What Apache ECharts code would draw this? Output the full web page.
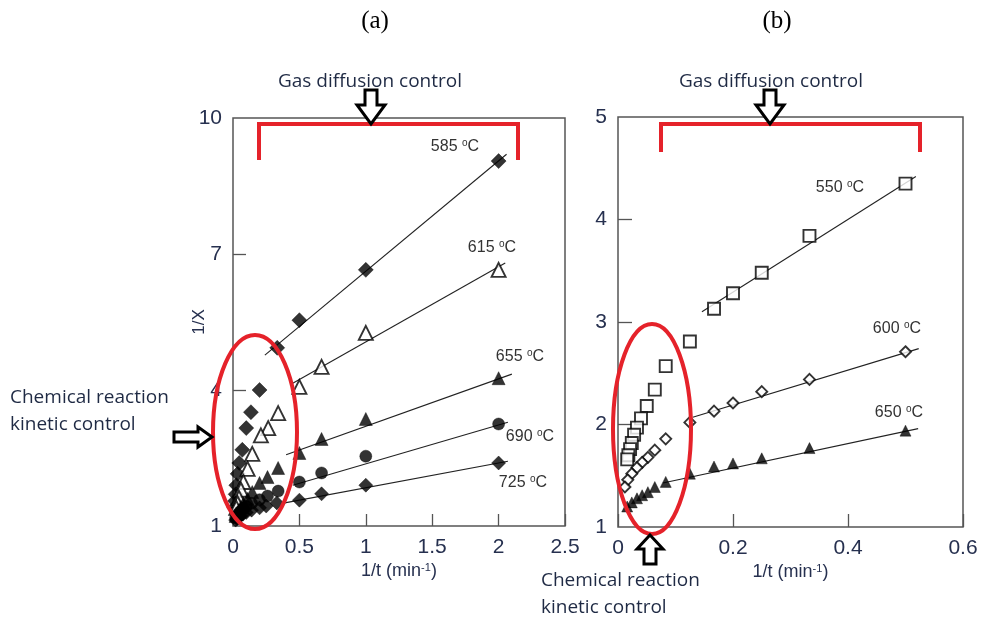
<!DOCTYPE html>
<html>
<head>
<meta charset="utf-8">
<script src="https://cdn.jsdelivr.net/npm/echarts@6/dist/echarts.min.js"></script>
<style>
  html, body { margin: 0; padding: 0; background: #fff; }
  #chart { width: 981px; height: 623px; }
</style>
</head>
<body>
<div id="chart"></div>
<script>
// ---- Panel (a): 1/X versus 1/t at five temperatures ----
const invT_585 = [2, 1, 0.5, 0.333, 0.2, 0.135, 0.1, 0.07, 0.047, 0.035, 0.025, 0.02, 0.015, 0.01];
const invX_585 = [9.05, 6.65, 5.54, 4.93, 4.0, 3.51, 3.16, 2.68, 2.39, 2.15, 1.9, 1.7, 1.55, 1.4];
const invT_615 = [2, 1, 0.667, 0.5, 0.34, 0.265, 0.21, 0.145, 0.11, 0.078, 0.06, 0.045, 0.035, 0.025];
const invX_615 = [6.65, 5.26, 4.51, 4.07, 3.49, 3.16, 3.0, 2.59, 2.26, 1.97, 1.8, 1.62, 1.5, 1.4];
const invT_655 = [2, 1, 0.667, 0.5, 0.34, 0.26, 0.2, 0.145, 0.11, 0.08, 0.06, 0.045, 0.03, 0.02];
const invX_655 = [4.26, 3.36, 2.92, 2.61, 2.28, 2.08, 1.95, 1.75, 1.6, 1.5, 1.42, 1.35, 1.28, 1.22];
const invT_690 = [2, 1, 0.667, 0.5, 0.34, 0.26, 0.2, 0.14, 0.1, 0.075, 0.055, 0.04, 0.03, 0.02];
const invX_690 = [3.25, 2.54, 2.17, 1.97, 1.77, 1.66, 1.58, 1.5, 1.43, 1.37, 1.32, 1.27, 1.22, 1.18];
const invT_725 = [2, 1, 0.667, 0.5, 0.33, 0.25, 0.2, 0.14, 0.1, 0.075, 0.055, 0.04, 0.03, 0.02];
const invX_725 = [2.39, 1.9, 1.71, 1.57, 1.51, 1.44, 1.4, 1.35, 1.3, 1.26, 1.22, 1.19, 1.16, 1.13];

// straight-line fits over the diffusion-controlled range: [start, end] as [1/t, 1/X]
const fit_585 = [[0.24, 4.77], [2.06, 9.2]];
const fit_615 = [[0.45, 4.15], [2.05, 6.8]];
const fit_655 = [[0.4, 2.57], [2.1, 4.35]];
const fit_690 = [[0.45, 1.9], [2.07, 3.29]];
const fit_725 = [[0.39, 1.51], [2.07, 2.43]];

// ---- Panel (b): 1/X versus 1/t at three temperatures ----
const invT_550 = [0.5, 0.333, 0.25, 0.2, 0.167, 0.125, 0.083, 0.064, 0.05, 0.04, 0.033, 0.028, 0.024, 0.021, 0.018, 0.016];
const invX_550 = [4.35, 3.84, 3.48, 3.28, 3.13, 2.81, 2.57, 2.34, 2.18, 2.06, 1.97, 1.9, 1.82, 1.76, 1.7, 1.66];
const invT_600 = [0.5, 0.333, 0.25, 0.2, 0.167, 0.125, 0.083, 0.064, 0.052, 0.042, 0.033, 0.024, 0.017, 0.012];
const invX_600 = [2.71, 2.44, 2.32, 2.21, 2.13, 2.02, 1.86, 1.75, 1.68, 1.63, 1.58, 1.52, 1.46, 1.39];
const invT_650 = [0.5, 0.333, 0.25, 0.2, 0.167, 0.125, 0.083, 0.064, 0.052, 0.042, 0.033, 0.024, 0.016];
const invX_650 = [1.94, 1.77, 1.67, 1.62, 1.59, 1.52, 1.44, 1.39, 1.34, 1.31, 1.28, 1.24, 1.2];

const fit_550 = [[0.146, 3.1], [0.518, 4.42]];
const fit_600 = [[0.13, 2.07], [0.523, 2.74]];
const fit_650 = [[0.078, 1.43], [0.522, 1.96]];

// tick labels
const yLabelsA = [1, 4, 7, 10];
const yTicksA = [4, 7];
const yTicksB = [2, 3, 4];

// curve labels
const tempLabelsA = ['585', '615', '655', '690', '725'];
const tempLabelsB = ['550', '600', '650'];

const pair = (xs, ys) => xs.map((x, i) => [x, ys[i]]);

const tickColor = '#26304f';
const noteColor = '#1f2a44';
const red = '#e5222a';
const frame = '#555';

function scatter(name, xi, xs, ys, symbol, size, filled) {
  return {
    name, type: 'scatter', xAxisIndex: xi, yAxisIndex: xi,
    data: pair(xs, ys), symbol, symbolSize: size, z: 3,
    itemStyle: filled
      ? { color: '#000', borderColor: '#000', borderWidth: 0.5 }
      : { color: '#fff', borderColor: '#000', borderWidth: 1.9 }
  };
}
function fitLine(name, xi, pts) {
  return {
    name, type: 'line', xAxisIndex: xi, yAxisIndex: xi, data: pts,
    symbol: 'none', z: 2, lineStyle: { color: '#222', width: 1.1 }
  };
}

const axisLabelStyle = { color: tickColor, fontFamily: 'Liberation Sans', fontSize: 21, margin: 11 };
const tickStyle = { lineStyle: { color: frame, width: 1.3 } };
const xName = '1/t (min{sup|-1})';
const nameStyle = {
  color: tickColor, fontFamily: 'Liberation Sans', fontSize: 18,
  rich: { sup: { fontSize: 11, color: tickColor, fontFamily: 'Liberation Sans', verticalAlign: 'top', padding: [0, 0, 8, 0] } }
};

function degText(x, y, t) {
  return {
    type: 'text', x, y,
    style: {
      text: '{n|' + t + ' }{o|o}{n|C}', align: 'center', verticalAlign: 'middle',
      rich: {
        n: { fontFamily: 'Liberation Sans', fontSize: 16, fill: '#333' },
        o: { fontFamily: 'Liberation Sans', fontSize: 10, fill: '#333', padding: [0, 0, 7, 0] }
      }
    }
  };
}
function downArrow(cx, top, tip) {
  const h = top + 15;
  return { type: 'polygon', shape: { points: [[cx - 6, top], [cx + 6, top], [cx + 6, h], [cx + 14, h], [cx, tip], [cx - 14, h], [cx - 6, h]] },
    style: { fill: '#fff', stroke: '#000', lineWidth: 3 }, z: 10 };
}
function upArrow(cx, tip, bottom) {
  const h = tip + 14;
  return { type: 'polygon', shape: { points: [[cx, tip], [cx + 13, h], [cx + 6, h], [cx + 6, bottom], [cx - 6, bottom], [cx - 6, h], [cx - 13, h]] },
    style: { fill: '#fff', stroke: '#000', lineWidth: 3 }, z: 10 };
}
function rightArrow(left, tip, cy) {
  const h = tip - 14;
  return { type: 'polygon', shape: { points: [[left, cy - 5], [h, cy - 5], [h, cy - 10], [tip, cy], [h, cy + 10], [h, cy + 5], [left, cy + 5]] },
    style: { fill: '#fff', stroke: '#000', lineWidth: 3 }, z: 10 };
}
function bracket(x0, x1, y, legBottom) {
  return { type: 'polyline', shape: { points: [[x0, legBottom], [x0, y], [x1, y], [x1, legBottom]] },
    style: { stroke: red, lineWidth: 4, fill: null }, z: 9 };
}
function note(x, y, text, align) {
  return { type: 'text', x, y, style: { text, align: align || 'left', verticalAlign: 'middle',
    fontFamily: 'Open Sans', fontSize: 19, fill: noteColor }, z: 11 };
}

const chart = echarts.init(document.getElementById('chart'), null, { renderer: 'canvas' });
chart.setOption({
  animation: false,
  backgroundColor: '#fff',
  grid: [
    { left: 233, top: 118, width: 332, height: 408, show: true, borderColor: frame, borderWidth: 1.5, backgroundColor: 'transparent' },
    { left: 618, top: 117, width: 345, height: 410, show: true, borderColor: frame, borderWidth: 1.5, backgroundColor: 'transparent' }
  ],
  xAxis: [
    { gridIndex: 0, type: 'value', min: 0, max: 2.5, interval: 0.5,
      axisLine: { show: false }, splitLine: { show: false },
      axisTick: Object.assign({ inside: true, length: 12 }, tickStyle),
      axisLabel: Object.assign({}, axisLabelStyle, { showMinLabel: true, showMaxLabel: true }),
      name: xName, nameLocation: 'middle', nameGap: 36, nameMoveOverlap: false, nameTextStyle: nameStyle },
    { gridIndex: 1, type: 'value', min: 0, max: 0.6, interval: 0.2,
      axisLine: { show: false }, splitLine: { show: false },
      axisTick: Object.assign({ inside: true, length: 13 }, tickStyle),
      axisLabel: Object.assign({}, axisLabelStyle, { formatter: v => String(+v.toFixed(1)) }),
      name: xName, nameLocation: 'middle', nameGap: 36, nameMoveOverlap: false, nameTextStyle: nameStyle }
  ],
  yAxis: [
    { gridIndex: 0, type: 'value', min: 1, max: 10,
      axisLine: { show: false }, splitLine: { show: false },
      axisTick: Object.assign({ inside: true, length: 13, customValues: yTicksA }, tickStyle),
      axisLabel: Object.assign({}, axisLabelStyle, { customValues: yLabelsA }),
      name: '1/X', nameLocation: 'middle', nameGap: 25, nameMoveOverlap: false,
      nameTextStyle: { color: tickColor, fontFamily: 'Liberation Sans', fontSize: 17 } },
    { gridIndex: 1, type: 'value', min: 1, max: 5, interval: 1,
      axisLine: { show: false }, splitLine: { show: false },
      axisTick: Object.assign({ inside: true, length: 14, customValues: yTicksB }, tickStyle),
      axisLabel: axisLabelStyle }
  ],
  series: [
    fitLine('fit 585', 0, fit_585),
    fitLine('fit 615', 0, fit_615),
    fitLine('fit 655', 0, fit_655),
    fitLine('fit 690', 0, fit_690),
    fitLine('fit 725', 0, fit_725),
    scatter('585', 0, invT_585, invX_585, 'diamond', 15, true),
    scatter('615', 0, invT_615, invX_615, 'triangle', 14, false),
    scatter('655', 0, invT_655, invX_655, 'triangle', 13, true),
    scatter('690', 0, invT_690, invX_690, 'circle', 12, true),
    scatter('725', 0, invT_725, invX_725, 'diamond', 14, true),
    fitLine('fit 550', 1, fit_550),
    fitLine('fit 600', 1, fit_600),
    fitLine('fit 650', 1, fit_650),
    scatter('550', 1, invT_550, invX_550, 'rect', 12, false),
    scatter('600', 1, invT_600, invX_600, 'diamond', 11, false),
    scatter('650', 1, invT_650, invX_650, 'triangle', 11, true)
  ],
  graphic: [
    { type: 'text', x: 375, y: 21, style: { text: '(a)', align: 'center', verticalAlign: 'middle', fontFamily: 'Liberation Serif', fontSize: 25, fill: '#000' } },
    { type: 'text', x: 777, y: 21, style: { text: '(b)', align: 'center', verticalAlign: 'middle', fontFamily: 'Liberation Serif', fontSize: 25, fill: '#000' } },
    note(370, 82, 'Gas diffusion control', 'center'),
    note(771, 82, 'Gas diffusion control', 'center'),
    bracket(259, 518, 124, 160),
    bracket(661, 920, 124, 152),
    downArrow(371, 90, 124),
    downArrow(770, 90, 124),
    { type: 'ellipse', shape: { cx: 255, cy: 432, rx: 42, ry: 97 }, style: { stroke: red, lineWidth: 4, fill: null }, z: 9 },
    { type: 'ellipse', shape: { cx: 652, cy: 429, rx: 39, ry: 105 }, style: { stroke: red, lineWidth: 4, fill: null }, z: 9 },
    note(10, 398, 'Chemical reaction'),
    note(10, 425, 'kinetic control'),
    rightArrow(174, 212, 437),
    note(541, 581, 'Chemical reaction'),
    note(541, 608, 'kinetic control'),
    upArrow(650, 535, 564),
    degText(455, 147, tempLabelsA[0]),
    degText(492, 248, tempLabelsA[1]),
    degText(520, 357, tempLabelsA[2]),
    degText(530, 437, tempLabelsA[3]),
    degText(523, 483, tempLabelsA[4]),
    degText(840, 188, tempLabelsB[0]),
    degText(897, 329, tempLabelsB[1]),
    degText(899, 413, tempLabelsB[2])
  ]
});
</script>
</body>
</html>
